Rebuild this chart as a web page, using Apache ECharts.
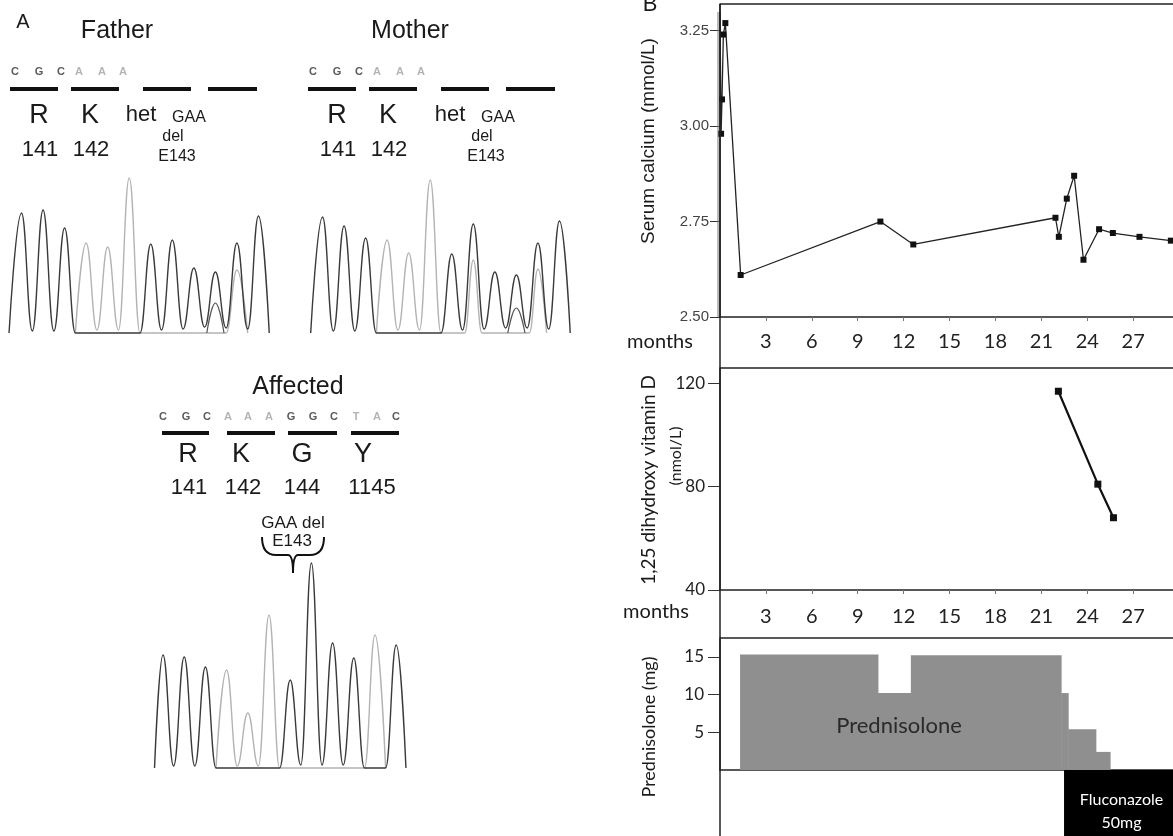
<!DOCTYPE html>
<html><head><meta charset="utf-8">
<script src="https://cdn.jsdelivr.net/npm/echarts@6/dist/echarts.min.js"></script>
<style>html,body{margin:0;padding:0;background:#fff}#c{width:1173px;height:836px}</style>
</head><body><div id="c"></div>
<script>
// ---------- Panel B data ----------
const calciumMonths = [0, 0.07, 0.13, 0.22, 0.35, 1.35, 10.48, 12.63, 21.92, 22.14, 22.66, 23.14, 23.75, 24.77, 25.67, 27.41, 29.46];
const calciumValues = [3.30, 2.98, 3.07, 3.24, 3.27, 2.61, 2.75, 2.69, 2.76, 2.71, 2.81, 2.87, 2.65, 2.73, 2.72, 2.71, 2.70];
const vitaminMonths = [22.11, 24.69, 25.71];
const vitaminValues = [117, 81, 68];
const prednisoloneStart = [1.31, 10.32, 12.47, 22.29, 22.75, 24.56];
const prednisoloneEnd   = [10.32, 12.47, 22.29, 22.75, 24.56, 25.49];
const prednisoloneDose  = [15.3, 10.2, 15.2, 10.2, 5.4, 2.4];
const fluconazoleStart = [22.48];
const fluconazoleEnd = [29.6];
const monthTicks = [3, 6, 9, 12, 15, 18, 21, 24, 27];
const calciumTicks = [2.5, 2.75, 3.0, 3.25];
const vitaminTicks = [40, 80, 120];
const prednisoloneTicks = [5, 10, 15];

// ---------- Panel A data (chromatogram traces: [base position, signal]) ----------
const fatherDarkTrace = [[0.42,0],[1,120],[1.5,2],[2,123],[2.5,2],[3,105],[3.5,0],[6.5,0],[7,89],[7.5,3],[8,93],[8.5,4],[9,65],[9.5,6],[10,61],[10.5,5],[11,90],[11.5,4],[12,117],[12.5,0]];
const fatherLightTrace = [[3.5,0],[4,90],[4.5,3],[5,86],[5.5,3],[6,155],[6.5,0],[10.5,0],[11,63],[11.5,0]];
const fatherMinorTrace = [[9.6,0],[10,30],[10.4,0]];
const motherDarkTrace = [[0.45,0],[1,116],[1.5,2],[2,107],[2.5,2],[3,95],[3.5,0],[6.5,0],[7,79],[7.5,3],[8,109],[8.5,4],[9,61],[9.5,5],[10,58],[10.5,5],[11,90],[11.5,4],[12,112],[12.5,0]];
const motherLightTrace = [[3.5,0],[4,93],[4.5,3],[5,80],[5.5,3],[6,153],[6.5,0],[7.6,0],[8,73],[8.4,0],[10.6,0],[11,64],[11.4,0]];
const motherMinorTrace = [[9.6,0],[10,25],[10.4,0]];
const affectedDarkTrace = [[0.6,0],[1,113],[1.5,2],[2,111],[2.5,2],[3,101],[3.5,0],[6.5,0],[7,88],[7.5,3],[8,205],[8.5,3],[9,125],[9.5,3],[10,110],[10.5,0],[11.5,0],[12,123],[12.46,0]];
const affectedLightTrace = [[3.5,0],[4,98],[4.5,2],[5,55],[5.5,2],[6,153],[6.5,0],[10.5,0],[11,133],[11.5,0]];

const parentBases = ['C','G','C','A','A','A'];
const affectedBases = ['C','G','C','A','A','A','G','G','C','T','A','C'];
const parentAmino = ['R','K'];
const parentCodons = ['141','142'];
const affectedAmino = ['R','K','G','Y'];
const affectedCodons = ['141','142','144','1145'];

// ---------- build ----------
const chart = echarts.init(document.getElementById('c'));
const AR = 'Liberation Sans, Arial, sans-serif';
const LA = 'Lato, sans-serif';
const INK = '#1a1a1a';
const G = [];
function txt(x, y, s, size, opt) {
  opt = opt || {};
  const font = (opt.weight ? opt.weight + ' ' : '') + size + 'px ' + (opt.family || AR);
  G.push({type: 'text', x: x, y: y, rotation: opt.rot || 0, z: 20,
    style: {text: s, font: font, fill: opt.color || INK,
      align: opt.align || 'center', textAlign: opt.align || 'center',
      verticalAlign: opt.va || 'middle', textVerticalAlign: opt.va || 'middle'}});
}
function hline(x1, x2, y, w, c) {
  G.push({type: 'line', z: 15, shape: {x1: x1, y1: y, x2: x2, y2: y}, style: {stroke: c || '#222', lineWidth: w || 1.5}});
}
function vline(x, y1, y2, w, c) {
  G.push({type: 'line', z: 15, shape: {x1: x, y1: y1, x2: x, y2: y2}, style: {stroke: c || '#222', lineWidth: w || 1.5}});
}
function seg(x1, y1, x2, y2) {
  G.push({type: 'line', z: 15, shape: {x1: x1, y1: y1, x2: x2, y2: y2}, style: {stroke: '#111', lineWidth: 2}});
}
function curve(x1, y1, cx, cy, x2, y2) {
  G.push({type: 'bezierCurve', z: 15, shape: {x1: x1, y1: y1, cpx1: cx, cpy1: cy, x2: x2, y2: y2},
    style: {stroke: '#111', lineWidth: 2, fill: null}});
}
function bar(x1, x2, y) {
  G.push({type: 'rect', z: 15, shape: {x: x1, y: y - 2, width: x2 - x1, height: 4}, style: {fill: '#111'}});
}
function baseColor(b) { return (b === 'A' || b === 'T') ? '#b4b4b4' : '#5a5a5a'; }

// Panel B frame
vline(720, 4, 836);
vline(718, 12, 317, 1, '#777');
hline(720, 1173, 4);
hline(720, 1173, 368);
hline(720, 1173, 638);
txt(650, 16, 'B', 22, {va: 'bottom'});
txt(660, 342, 'months', 20, {family: LA});
txt(656, 612, 'months', 20, {family: LA});
txt(649, 141, 'Serum calcium (mmol/L)', 19, {rot: Math.PI / 2});
txt(649, 480, '1,25 dihydroxy vitamin D', 19, {rot: Math.PI / 2, family: LA});
txt(676, 456, '(nmol/L)', 16, {rot: Math.PI / 2, family: LA});
txt(649, 727, 'Prednisolone (mg)', 18, {rot: Math.PI / 2, family: LA});
txt(899, 726, 'Prednisolone', 22, {family: LA, color: '#2a2a2a'});

// Panel A
txt(23, 22, 'A', 20);
function parent(title, titleX, ox, oxh) {
  txt(titleX, 31, title, 25);
  const bx = [15, 39, 61, 79, 102, 123];
  parentBases.forEach((b, i) => txt(bx[i] + ox, 72, b, 11, {weight: 'bold', color: baseColor(b)}));
  [[10, 58], [71, 119], [143, 191], [208, 257]].forEach(p => bar(p[0] + ox, p[1] + ox, 89));
  const ax = [39, 90];
  parentAmino.forEach((a, i) => txt(ax[i] + ox, 116, a, 27));
  parentCodons.forEach((a, i) => txt(ax[i] + 1 + ox, 150, a, 22));
  txt(141 + oxh, 115, 'het', 22);
  txt(189 + oxh, 118, 'GAA', 16);
  txt(173 + oxh, 137, 'del', 16);
  txt(177 + oxh, 157, 'E143', 16);
}
parent('Father', 117, 0, 0);
parent('Mother', 410, 298, 309);

txt(298, 387, 'Affected', 25);
const abx = [163, 186, 207, 228, 248, 269, 291, 313, 334, 356, 377, 396];
affectedBases.forEach((b, i) => txt(abx[i], 417, b, 11, {weight: 'bold', color: baseColor(b)}));
[[162, 209], [227, 275], [288, 337], [351, 399]].forEach(p => bar(p[0], p[1], 433));
const aax = [188, 241, 302, 363];
affectedAmino.forEach((a, i) => txt(aax[i], 455, a, 27));
const acx = [189, 243, 302, 372];
affectedCodons.forEach((a, i) => txt(acx[i], 488, a, 22));
txt(293, 523, 'GAA del', 17);
txt(292, 541, 'E143', 17);
// brace
curve(262, 537, 262, 555, 276, 555);
seg(276, 555, 288, 555);
curve(288, 555, 293, 555, 293, 573);
curve(293, 573, 293, 555, 298, 555);
seg(298, 555, 310, 555);
curve(310, 555, 324, 555, 324, 537);

// ---------- axes ----------
function monthAxis(gi, showLabels, margin) {
  return {type: 'value', gridIndex: gi, min: 0, max: 29.6, interval: 3,
    axisLine: {show: gi !== 3, lineStyle: {color: '#222', width: 1.5}},
    axisTick: {show: showLabels, length: 4, customValues: monthTicks, lineStyle: {color: '#777'}},
    axisLabel: {show: showLabels, margin: margin, fontFamily: LA, fontSize: 20, color: '#222',
      showMinLabel: false, showMaxLabel: false,
      formatter: v => (monthTicks.indexOf(v) >= 0 ? String(v) : '')},
    splitLine: {show: false}};
}
function hiddenAxis(gi, min, max) {
  return {type: 'value', gridIndex: gi, min: min, max: max, show: false, splitLine: {show: false}};
}
function inList(list) {
  return v => (list.some(t => Math.abs(t - v) < 1e-6) ? v : null);
}
const grids = [
  {left: 720, top: 4, width: 453, height: 313},
  {left: 720, top: 368, width: 453, height: 222},
  {left: 720, top: 638, width: 453, height: 132},
  {left: 720, top: 770, width: 453, height: 66},
  {left: 0, top: 153, width: 280, height: 180},
  {left: 301, top: 153, width: 280, height: 180},
  {left: 141.8, top: 548, width: 275.6, height: 220}
].map(g => Object.assign({containLabel: false, show: false}, g));

const xAxis = [monthAxis(0, true, 15), monthAxis(1, true, 17), monthAxis(2, false, 0), monthAxis(3, false, 0),
  hiddenAxis(4, 0, 13), hiddenAxis(5, 0, 13), hiddenAxis(6, 0, 13)];
const yAxis = [
  {type: 'value', gridIndex: 0, min: 2.5, max: 3.32, interval: 0.25,
    axisLine: {show: true, lineStyle: {color: '#222', width: 1.5}},
    axisTick: {show: true, length: 10, customValues: calciumTicks, lineStyle: {color: '#333'}},
    axisLabel: {margin: 11, fontFamily: AR, fontSize: 15, color: '#444', showMaxLabel: false,
      formatter: v => (calciumTicks.some(t => Math.abs(t - v) < 1e-6) ? v.toFixed(2) : '')},
    splitLine: {show: false}},
  {type: 'value', gridIndex: 1, min: 40, max: 126, interval: 40,
    axisLine: {show: true, lineStyle: {color: '#222', width: 1.5}},
    axisTick: {show: true, length: 12, customValues: vitaminTicks, lineStyle: {color: '#333'}},
    axisLabel: {margin: 15, fontFamily: LA, fontSize: 17, color: '#222', showMaxLabel: false,
      formatter: v => (vitaminTicks.indexOf(v) >= 0 ? String(v) : '')},
    splitLine: {show: false}},
  {type: 'value', gridIndex: 2, min: 0, max: 17.5, interval: 5,
    axisLine: {show: true, lineStyle: {color: '#222', width: 1.5}},
    axisTick: {show: true, length: 12, customValues: prednisoloneTicks, lineStyle: {color: '#333'}},
    axisLabel: {margin: 16, fontFamily: LA, fontSize: 17, color: '#222', showMinLabel: false, showMaxLabel: false,
      formatter: v => (prednisoloneTicks.indexOf(v) >= 0 ? String(v) : '')},
    splitLine: {show: false}},
  hiddenAxis(3, 0, 1), hiddenAxis(4, 0, 180), hiddenAxis(5, 0, 180), hiddenAxis(6, 0, 220)
];

// ---------- series ----------
const calciumData = calciumMonths.map((m, i) => i === 0 ? {value: [m, calciumValues[i]], symbol: 'none'} : [m, calciumValues[i]]);
const vitaminData = vitaminMonths.map((m, i) => [m, vitaminValues[i]]);
const prednisoloneData = prednisoloneStart.map((s, i) => [s, prednisoloneEnd[i], prednisoloneDose[i]]);
const fluconazoleData = fluconazoleStart.map((s, i) => [s, fluconazoleEnd[i]]);

function trace(gi, data, color, width) {
  return {type: 'line', xAxisIndex: gi, yAxisIndex: gi, data: data, symbol: 'none', smooth: 0.45, smoothMonotone: 'x',
    clip: false, silent: true, animation: false, lineStyle: {color: color, width: width || 1.4}, z: 3};
}

const series = [
  {type: 'line', xAxisIndex: 0, yAxisIndex: 0, data: calciumData, symbol: 'rect', symbolSize: 6, clip: false,
    lineStyle: {color: '#222', width: 1.3}, itemStyle: {color: '#111'}, animation: false, z: 5},
  {type: 'line', xAxisIndex: 1, yAxisIndex: 1, data: vitaminData, symbol: 'rect', symbolSize: 7, clip: false,
    lineStyle: {color: '#111', width: 2.2}, itemStyle: {color: '#111'}, animation: false, z: 5},
  {type: 'custom', xAxisIndex: 2, yAxisIndex: 2, data: prednisoloneData, encode: {x: [0, 1], y: 2}, animation: false,
    renderItem: function (params, api) {
      const a = api.coord([api.value(0), api.value(2)]);
      const b = api.coord([api.value(1), 0]);
      return {type: 'rect', shape: {x: a[0], y: a[1], width: b[0] - a[0] + 0.5, height: b[1] - a[1]}, style: {fill: '#8f8f8f'}};
    }},
  {type: 'custom', xAxisIndex: 3, yAxisIndex: 3, data: fluconazoleData, encode: {x: [0, 1]}, animation: false,
    renderItem: function (params, api) {
      const a = api.coord([api.value(0), 1]);
      const b = api.coord([api.value(1), 0]);
      return {type: 'group', children: [
        {type: 'rect', shape: {x: a[0], y: a[1], width: b[0] - a[0], height: b[1] - a[1]}, style: {fill: '#000'}},
        {type: 'text', style: {text: 'Fluconazole\n50mg', x: (a[0] + b[0]) / 2 + 3, y: (a[1] + b[1]) / 2 + 8,
          align: 'center', verticalAlign: 'middle', textAlign: 'center', textVerticalAlign: 'middle',
          fill: '#fff', font: '16px ' + LA, lineHeight: 23}}
      ]};
    }},
  trace(4, fatherLightTrace, '#b3b3b3'), trace(4, fatherMinorTrace, '#555', 1.2), trace(4, fatherDarkTrace, '#3a3a3a'),
  trace(5, motherLightTrace, '#b3b3b3'), trace(5, motherMinorTrace, '#555', 1.2), trace(5, motherDarkTrace, '#3a3a3a'),
  trace(6, affectedLightTrace, '#b3b3b3'), trace(6, affectedDarkTrace, '#3a3a3a')
];

chart.setOption({
  backgroundColor: '#ffffff',
  animation: false,
  grid: grids,
  xAxis: xAxis,
  yAxis: yAxis,
  series: series,
  graphic: {elements: G}
});
</script>
</body></html>
